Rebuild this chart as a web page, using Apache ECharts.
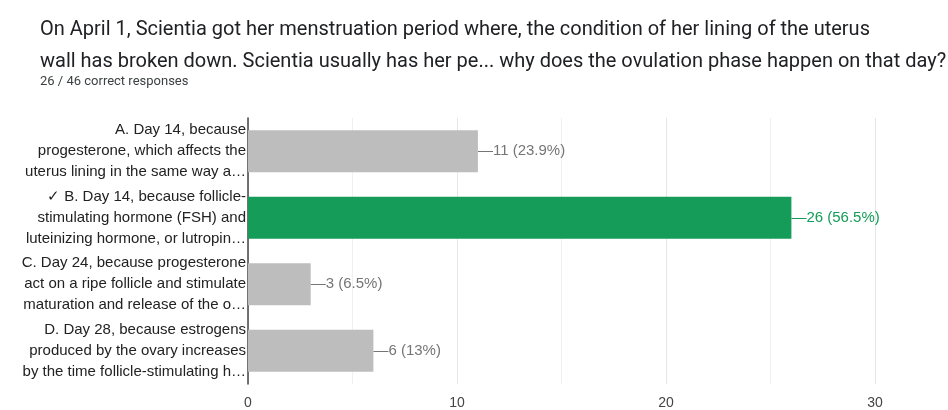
<!DOCTYPE html>
<html>
<head>
<meta charset="utf-8">
<script src="https://cdn.jsdelivr.net/npm/echarts@6/dist/echarts.min.js"></script>
<style>
  html, body { margin: 0; padding: 0; background: #fff; }
  #chart { width: 948px; height: 410px; }
</style>
</head>
<body>
<div id="chart"></div>
<script>
const titleLines = [
  'On April 1, Scientia got her menstruation period where, the condition of her lining of the uterus',
  'wall has broken down. Scientia usually has her pe... why does the ovulation phase happen on that day?'
];
const subtitle = '26 / 46 correct responses';

const categories = [
  'A. Day 14, because\nprogesterone, which affects the\nuterus lining in the same way a…',
  '✓ B. Day 14, because follicle-\nstimulating hormone (FSH) and\nluteinizing hormone, or lutropin…',
  'C. Day 24, because progesterone\nact on a ripe follicle and stimulate\nmaturation and release of the o…',
  'D. Day 28, because estrogens\nproduced by the ovary increases\nby the time follicle-stimulating h…'
];
const counts = [11, 26, 3, 6];
const percents = ['23.9', '56.5', '6.5', '13'];
const correct = [false, true, false, false];

const chart = echarts.init(document.getElementById('chart'));

chart.setOption({
  animation: false,
  title: [
    {
      text: titleLines.join('\n'),
      left: 40, top: 14, padding: 0,
      textStyle: { fontFamily: 'Roboto', fontSize: 20, fontWeight: 'normal', color: '#202124', lineHeight: 32 }
    },
    {
      text: subtitle,
      left: 40, top: 75, padding: 0,
      textStyle: { fontFamily: 'Roboto', fontSize: 13, fontWeight: 'normal', color: '#3c4043' }
    }
  ],
  grid: { left: 248, right: 73, top: 118, bottom: 24, containLabel: false },
  xAxis: {
    type: 'value',
    min: 0, max: 30, interval: 10,
    axisLine: { show: false },
    axisTick: { show: false },
    axisLabel: { color: '#444', fontFamily: 'Arial', fontSize: 14, margin: 12 },
    splitLine: { lineStyle: { color: '#e6e6e6' } },
    minorTick: { show: false, splitNumber: 2 },
    minorSplitLine: { show: true, lineStyle: { color: '#f0f0f0' } }
  },
  yAxis: {
    type: 'category',
    inverse: true,
    data: categories,
    axisLine: { lineStyle: { color: '#444', width: 1.5 } },
    axisTick: { show: false },
    axisLabel: { color: '#222', fontFamily: 'Arial', fontSize: 15, lineHeight: 21, margin: 2, align: 'right' }
  },
  series: [{
    type: 'bar',
    barCategoryGap: '37%',
    data: counts.map((v, i) => ({
      value: v,
      itemStyle: { color: correct[i] ? '#149c58' : '#bdbdbd' },
      label: { color: correct[i] ? '#149c58' : '#757575' }
    })),
    label: {
      show: true,
      position: 'right',
      distance: 0,
      fontFamily: 'Arial',
      fontSize: 15,
      formatter: p => '—' + counts[p.dataIndex] + ' (' + percents[p.dataIndex] + '%)'
    }
  }]
});
</script>
</body>
</html>
